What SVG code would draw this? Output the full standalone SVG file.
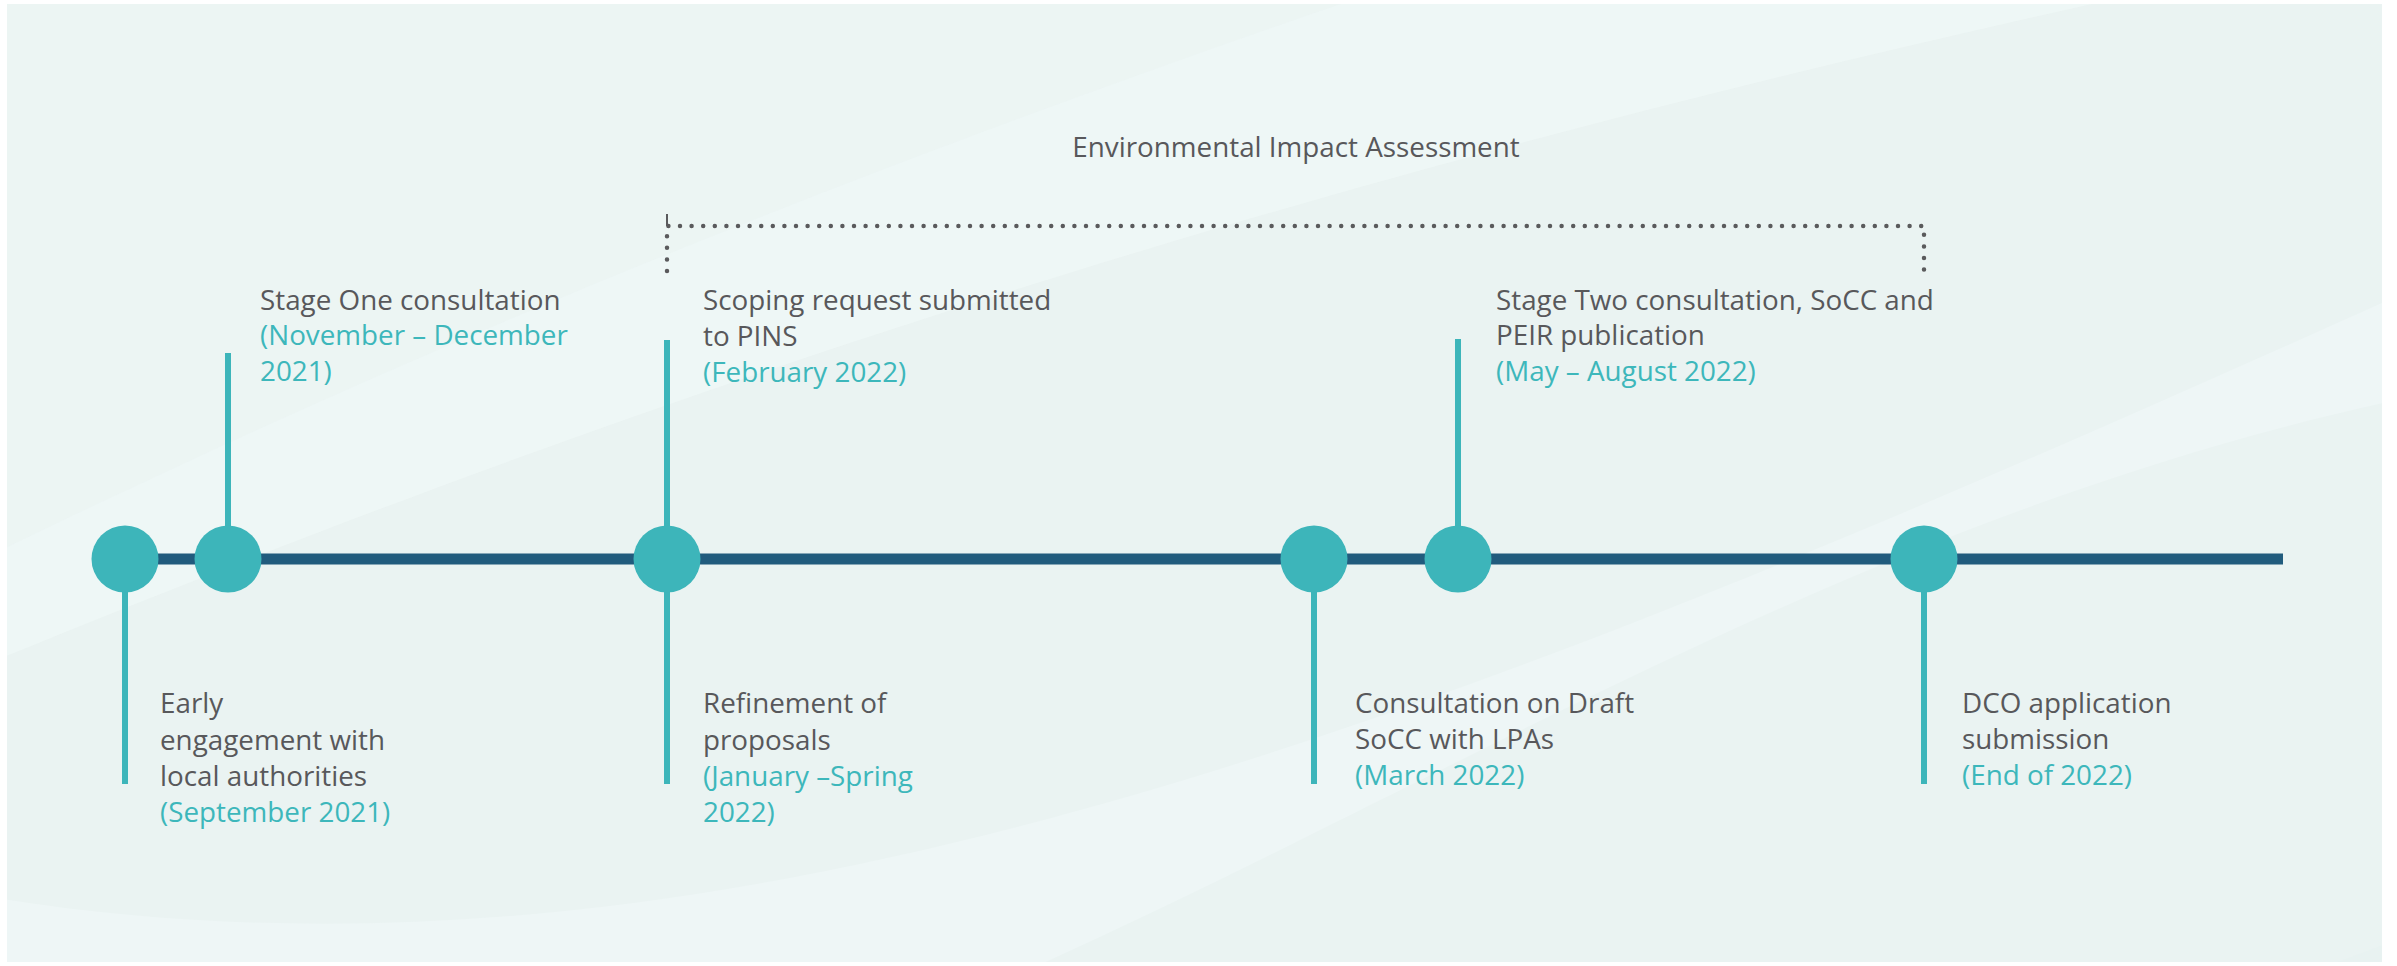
<svg xmlns="http://www.w3.org/2000/svg" width="2397" height="966" viewBox="0 0 2397 966">
  <defs>
    <style>
      .lbl { font-family: "Open Sans", Lato, "Liberation Sans", sans-serif; font-size: 27.8px; fill: #58585b; }
      .date { fill: #3db7bb; }
      .stem { stroke: #3db5ba; stroke-width: 6; stroke-linecap: butt; }
      .dot { fill: #3db5ba; }
      .bracket { fill: none; stroke: #5a5a5c; stroke-width: 4.5; stroke-linecap: round; stroke-dasharray: 0 11.6; }
    </style>
    <clipPath id="panel">
      <rect x="7" y="4" width="2375" height="958"/>
    </clipPath>
  </defs>
  <rect width="2397" height="966" fill="#ffffff"/>
  <g id="background" clip-path="url(#panel)">
    <rect x="7" y="4" width="2375" height="958" fill="#eaf3f2"/>
    <path d="M -100 700 C 500 450 1300 150 2500 -80 L 2500 -200 L -100 -200 Z" fill="#eff7f6" opacity="0.8"/>
    <path d="M -100 600 C 400 350 900 150 1500 -50 L -100 -50 Z" fill="#ebf4f3" opacity="0.9"/>
    <path d="M -100 880 C 700 1050 1500 700 2500 250 L 2500 1100 L -100 1100 Z" fill="#eef6f6"/>
    <path d="M 700 1100 C 1300 900 1800 500 2500 380 L 2500 1100 Z" fill="#eaf3f2"/>
    <path d="M 2100 1100 C 2200 1000 2300 980 2500 900 L 2500 1100 Z" fill="#e8f2f1"/>
  </g>
  <g id="eia-bracket">
    <line x1="667" y1="214" x2="667" y2="226" stroke="#5a5a5c" stroke-width="2"/>
    <path class="bracket" d="M 667 271 L 667 226 L 1924 226 L 1924 271"/>
    <text class="lbl" x="1296" y="157" text-anchor="middle">Environmental Impact Assessment</text>
  </g>
  <g id="connectors">
    <line x1="125" y1="559" x2="2283" y2="559" stroke="#215b7d" stroke-width="11"/>
    <line class="stem" x1="125" y1="559" x2="125" y2="784"/>
    <line class="stem" x1="228" y1="353" x2="228" y2="559"/>
    <line class="stem" x1="667" y1="340" x2="667" y2="784"/>
    <line class="stem" x1="1314" y1="559" x2="1314" y2="784"/>
    <line class="stem" x1="1458" y1="339" x2="1458" y2="559"/>
    <line class="stem" x1="1924" y1="559" x2="1924" y2="784"/>
  </g>
  <g id="node-early">
    <circle class="dot" cx="125" cy="559" r="33.5"/>
    <text class="lbl" x="160" y="713">Early</text>
    <text class="lbl" x="160" y="750">engagement with</text>
    <text class="lbl" x="160" y="786">local authorities</text>
    <text class="lbl date" x="160" y="822">(September 2021)</text>
  </g>
  <g id="node-stage-one">
    <circle class="dot" cx="228" cy="559" r="33.5"/>
    <text class="lbl" x="260" y="310">Stage One consultation</text>
    <text class="lbl date" x="260" y="345">(November – December</text>
    <text class="lbl date" x="260" y="381">2021)</text>
  </g>
  <g id="node-scoping">
    <circle class="dot" cx="667" cy="559" r="33.5"/>
    <text class="lbl" x="703" y="310">Scoping request submitted</text>
    <text class="lbl" x="703" y="346">to PINS</text>
    <text class="lbl date" x="703" y="382">(February 2022)</text>
  </g>
  <g id="node-refinement">
    <text class="lbl" x="703" y="713">Refinement of</text>
    <text class="lbl" x="703" y="750">proposals</text>
    <text class="lbl date" x="703" y="786">(January –Spring</text>
    <text class="lbl date" x="703" y="822">2022)</text>
  </g>
  <g id="node-draft-socc">
    <circle class="dot" cx="1314" cy="559" r="33.5"/>
    <text class="lbl" x="1355" y="713">Consultation on Draft</text>
    <text class="lbl" x="1355" y="749">SoCC with LPAs</text>
    <text class="lbl date" x="1355" y="785">(March 2022)</text>
  </g>
  <g id="node-stage-two">
    <circle class="dot" cx="1458" cy="559" r="33.5"/>
    <text class="lbl" x="1496" y="310">Stage Two consultation, SoCC and</text>
    <text class="lbl" x="1496" y="345">PEIR publication</text>
    <text class="lbl date" x="1496" y="381">(May – August 2022)</text>
  </g>
  <g id="node-dco">
    <circle class="dot" cx="1924" cy="559" r="33.5"/>
    <text class="lbl" x="1962" y="713">DCO application</text>
    <text class="lbl" x="1962" y="749">submission</text>
    <text class="lbl date" x="1962" y="785">(End of 2022)</text>
  </g>
</svg>
